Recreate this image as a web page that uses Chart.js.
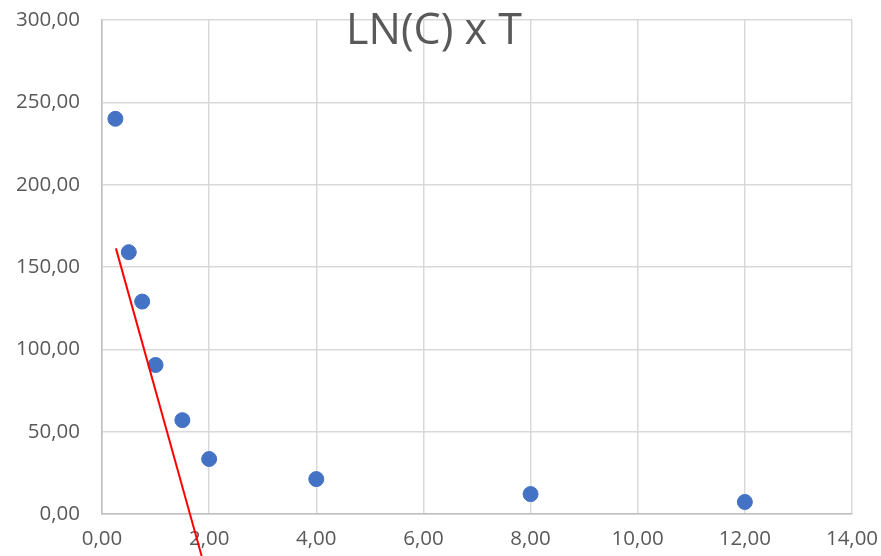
<!DOCTYPE html>
<html>
<head>
<meta charset="utf-8">
<script src="https://cdn.jsdelivr.net/npm/chart.js@4"></script>
<style>
  html, body { margin: 0; padding: 0; background: #fff; }
  #wrap { width: 881px; height: 556px; }
</style>
</head>
<body>
<div id="wrap"><canvas id="c" width="881" height="556"></canvas></div>
<script>
// dados
const tempo = [0.25, 0.5, 0.75, 1, 1.5, 2, 4, 8, 12];
const valores = [240, 159, 129, 90.5, 57, 33.4, 21.2, 12.1, 7.3];
// linha de tendência (pontas estimadas)
const tendX = [0.26, 1.86];
const tendY = [161.3, -25.5];
const titulo = 'LN(C) x T';

const fmt = v => v.toFixed(2).replace('.', ',');

const tituloPlugin = {
  id: 'tituloPlugin',
  afterDatasetsDraw(chart) {
    const ctx = chart.ctx;
    ctx.save();
    ctx.font = '43px "Open Sans"';
    ctx.fillStyle = '#595959';
    ctx.textAlign = 'center';
    ctx.textBaseline = 'alphabetic';
    ctx.fillText(titulo, 434, 44);
    ctx.restore();
  }
};

new Chart(document.getElementById('c'), {
  type: 'scatter',
  data: {
    datasets: [
      {
        label: 'pontos',
        data: tempo.map((t, i) => ({ x: t, y: valores[i] })),
        backgroundColor: '#4472C4',
        borderColor: '#4472C4',
        pointRadius: 7.5,
        order: 1
      },
      {
        label: 'tendência',
        type: 'line',
        data: tendX.map((t, i) => ({ x: t, y: tendY[i] })),
        borderColor: '#FF0000',
        borderWidth: 2,
        pointRadius: 0,
        fill: false,
        clip: false,
        order: 0
      }
    ]
  },
  options: {
    responsive: false,
    animation: false,
    layout: { padding: { top: 20, right: 29, left: 0, bottom: 0 } },
    plugins: {
      legend: { display: false },
      title: { display: false },
      tooltip: { enabled: false }
    },
    scales: {
      x: {
        type: 'linear',
        min: 0, max: 14,
        ticks: {
          stepSize: 2,
          callback: v => fmt(v),
          color: '#595959',
          font: { family: 'Open Sans', size: 20.5 },
          padding: 13,
          maxRotation: 0
        },
        grid: { color: '#d9d9d9', lineWidth: 1.5, drawTicks: false },
        border: { color: '#bfbfbf', width: 1.5 },
        afterFit(scale) {
          scale.height = 42;
          scale.paddingLeft = 0;
          scale.paddingRight = 0;
        }
      },
      y: {
        min: 0, max: 300,
        ticks: {
          stepSize: 50,
          callback: v => fmt(v),
          color: '#595959',
          font: { family: 'Open Sans', size: 20.5 },
          padding: 22
        },
        grid: { color: '#d9d9d9', lineWidth: 1.5, drawTicks: false },
        border: { color: '#bfbfbf', width: 1.5 },
        afterFit(scale) {
          scale.width = 102;
          scale.paddingTop = 0;
          scale.paddingBottom = 0;
        }
      }
    }
  },
  plugins: [tituloPlugin]
});
</script>
</body>
</html>
